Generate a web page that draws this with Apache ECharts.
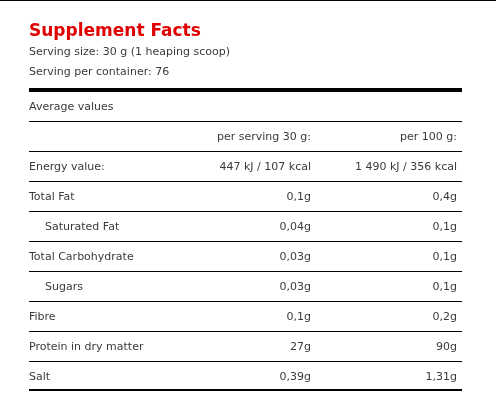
<!DOCTYPE html>
<html>
<head>
<meta charset="utf-8">
<script src="https://cdn.jsdelivr.net/npm/echarts@6/dist/echarts.min.js"></script>
<style>html,body{margin:0;padding:0;background:#fff}#container{width:496px;height:408px}</style>
</head>
<body>
<div id="container"></div>
<script>
var title = 'Supplement Facts';
var subLines = ['Serving size: 30 g (1 heaping scoop)', 'Serving per container: 76'];
var headers = ['per serving 30 g:', 'per 100 g:'];
var nutrients = ['Energy value:', 'Total Fat', 'Saturated Fat', 'Total Carbohydrate', 'Sugars', 'Fibre', 'Protein in dry matter', 'Salt'];
var indented = [false, false, true, false, true, false, false, false];
var perServing = ['447 kJ / 107 kcal', '0,1g', '0,04g', '0,03g', '0,03g', '0,1g', '27g', '0,39g'];
var per100g = ['1 490 kJ / 356 kcal', '0,4g', '0,1g', '0,1g', '0,1g', '0,2g', '90g', '1,31g'];

var myChart = echarts.init(document.getElementById('container'));
var font = '"DejaVu Sans", Verdana, sans-serif';
var col = '#3a3a3a';
var L = 29, R = 462;
var els = [];

function txt(x, y, s, align, extra) {
	els.push({type: 'text', x: x, y: y, style: Object.assign({text: s, fill: col, font: '11px ' + font, textAlign: align || 'left', textVerticalAlign: 'middle'}, extra || {})});
}
function line(y, w) {
	els.push({type: 'rect', shape: {x: L, y: y, width: R - L, height: w}, style: {fill: '#000'}});
}

// frame top edge
els.push({type: 'rect', shape: {x: 0, y: 0, width: 496, height: 1}, style: {fill: '#000'}});
txt(L, 32, title, 'left', {fill: '#e00000', font: 'bold 17px ' + font});
txt(L, 52, subLines[0]);
txt(L, 72, subLines[1]);
line(88, 4);
txt(L, 107, 'Average values');
line(121, 1);
txt(311, 137, headers[0], 'right');
txt(457, 137, headers[1], 'right');
line(151, 1);
// 行
for (var i = 0; i < nutrients.length; i++) {
	var y = 167 + i * 30;
	txt(indented[i] ? 45 : L, y, nutrients[i]);
	txt(311, y, perServing[i], 'right');
	txt(457, y, per100g[i], 'right');
	if (i < nutrients.length - 1) line(y + 14, 1);
}
line(389, 2);

myChart.setOption({graphic: {elements: els}});
</script>
</body>
</html>
